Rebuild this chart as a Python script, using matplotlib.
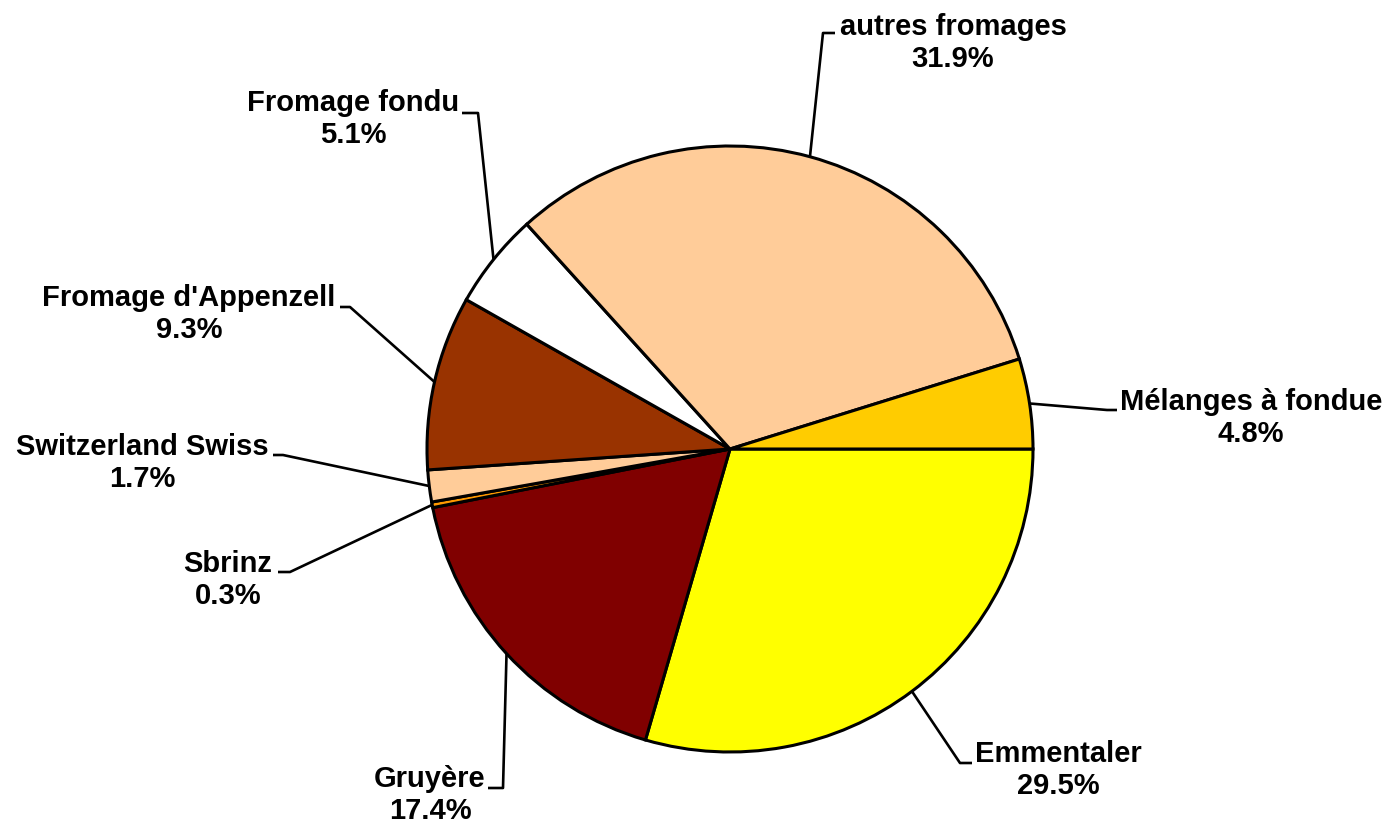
import numpy as np
import matplotlib.pyplot as plt

plt.rcParams['font.family'] = ['Liberation Sans', 'DejaVu Sans']

labels = ["Emmentaler", "Gruyère", "Sbrinz", "Switzerland Swiss",
          "Fromage d'Appenzell", "Fromage fondu", "autres fromages",
          "Mélanges à fondue"]
shares = [29.5, 17.4, 0.3, 1.7, 9.3, 5.1, 31.9, 4.8]
colors = ["#FFFF00", "#800000", "#FF9900", "#FFCC99",
          "#993300", "#FFFFFF", "#FFCC99", "#FFCC00"]

W, H = 1390, 824
cx, cy, r = 730, H - 449, 303

# label layout: text centre, elbow of leader line, side of the text
text_pos = [(1058, 770), (430, 795), (228, 580), (142, 463),
            (189, 314), (353, 119), (953, 43), (1251, 418)]
elbow = [(960, 763), (503, 788), (290, 572), (283, 455),
         (350, 307), (478, 113), (823, 33), (1107, 410)]
stub = [12, -15, -12, -10, -10, -16, 12, 10]

fig = plt.figure(figsize=(13.9, 8.24), dpi=100)
ax = fig.add_axes([0, 0, 1, 1])

wedges, _ = ax.pie(shares, colors=colors, startangle=0, counterclock=False,
                   center=(cx, cy), radius=r,
                   wedgeprops=dict(edgecolor='black', linewidth=2.2))
ax.set_xlim(0, W)
ax.set_ylim(0, H)
ax.set_aspect('equal')
ax.axis('off')

for w, lab, val, tp, el, st in zip(wedges, labels, shares, text_pos, elbow, stub):
    mid = np.deg2rad((w.theta1 + w.theta2) / 2)
    ex, ey = cx + r * np.cos(mid), cy + r * np.sin(mid)
    bx, by = el[0], H - el[1]
    ax.plot([ex, bx, bx + st], [ey, by, by], color='black', lw=1.9,
            solid_capstyle='butt')
    ax.text(tp[0], H - tp[1], f"{lab}\n{val:.1f}%", ha='center', va='center',
            fontsize=21, fontweight='bold', linespacing=1.15)

fig.savefig("out.png", dpi=100)
